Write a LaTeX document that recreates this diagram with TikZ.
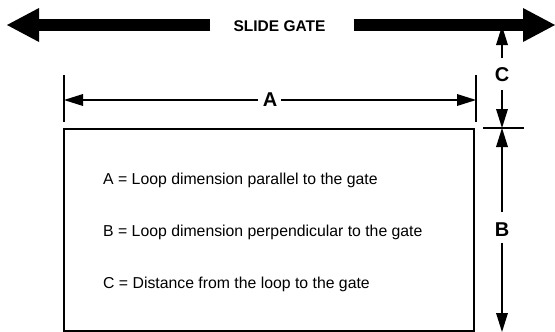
\documentclass[tikz,border=0pt]{standalone}
\usepackage{fontspec}
\setmainfont{Liberation Sans}
\usetikzlibrary{arrows.meta}
\begin{document}
\begin{tikzpicture}[x=1pt,y=-1pt,
  gatearrow/.style={line width=12pt, -{Triangle[length=32pt,width=34pt,line width=0pt]}},
  dimarrow/.style={line width=2pt, -{Triangle[length=19pt,width=12pt,line width=0pt]}},
  thin/.style={line width=2pt},
  lbl/.style={font=\bfseries\fontsize{20}{22}\selectfont, inner sep=0pt},
  desc/.style={font=\fontsize{15.8}{19}\selectfont, inner sep=0pt, anchor=base west}]
\useasboundingbox (0,0) rectangle (555,332);
% loop box
\node[draw, line width=2pt, minimum width=410pt, minimum height=202pt, inner sep=0pt] (loop) at (269,229.5) {};
\node[desc] (da) at (103,184) {A = Loop dimension parallel to the gate};
\node[desc] (db) at (103,236) {B = Loop dimension perpendicular to the gate};
\node[desc] (dc) at (103,288) {C = Distance from the loop to the gate};
% dimension A
\coordinate (al) at (64,100);
\coordinate (ar) at (476,100);
\draw[thin] (64,75) -- (64,122);
\draw[thin] (476,75) -- (476,122);
\node[lbl] (alab) at (270,100) {A};
\draw[dimarrow, shorten <=5pt] (alab.west) -- (al);
\draw[dimarrow, shorten <=4pt] (alab.east) -- (ar);
% dimensions C and B
\node[lbl] (clab) at (502,74.5) {C};
\node[lbl] (blab) at (502,229.5) {B};
\coordinate (cg) at (502,26);
\coordinate (cl) at (502,128);
\coordinate (bb) at (502,332);
\draw[dimarrow, shorten <=9pt] (clab.north) -- (cg);
\draw[dimarrow, shorten <=8pt] (clab.south) -- (cl);
\draw[thin] (483,128) -- (524,128);
\draw[dimarrow, shorten <=10pt] (blab.north) -- (cl);
\draw[dimarrow, shorten <=6pt] (blab.south) -- (bb);
% slide gate
\node[font=\bfseries\fontsize{15.5}{18}\selectfont, inner sep=0pt] (gate) at (279.5,26.5) {SLIDE GATE};
\coordinate (gl) at (7,25);
\coordinate (gr) at (555,25);
\draw[gatearrow] ([xshift=-23pt]gate.west |- gl) -- (gl);
\draw[gatearrow] ([xshift=28pt]gate.east |- gr) -- (gr);
\end{tikzpicture}
\end{document}
